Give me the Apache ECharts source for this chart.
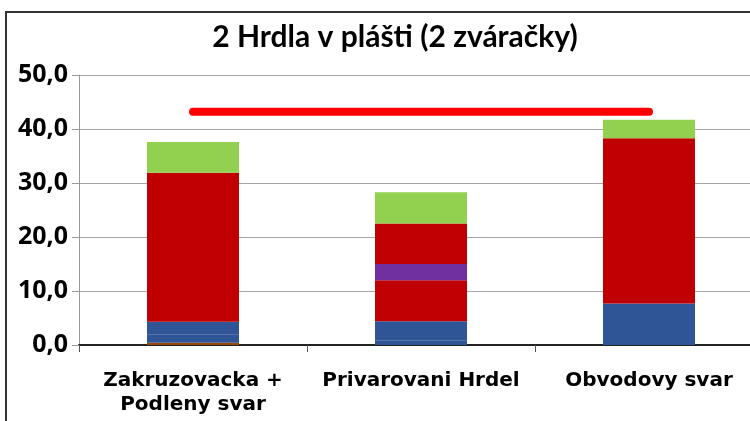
<!DOCTYPE html>
<html>
<head>
<meta charset="utf-8">
<script src="https://cdn.jsdelivr.net/npm/echarts@6/dist/echarts.min.js"></script>
<style>
html,body{margin:0;padding:0;background:#fff;overflow:hidden;width:750px;height:421px;}
#c{width:780px;height:421px;}
</style>
</head>
<body>
<div id="c"></div>
<script>
const titleText = '2 Hrdla v plášti (2 zváračky)';
const categories = ['Zakruzovacka +\nPodleny svar', 'Privarovani Hrdel', 'Obvodovy svar'];
const yTicks = [0, 10, 20, 30, 40, 50];
// stacked segment values (bottom to top)
const brown  = [0.4, 0,   0];
const blue1  = [1.5, 0.9, 7.7];
const blue2  = [2.4, 3.5, 0];
const red1   = [27.6, 7.6, 30.6];
const purple = [0,   3.0, 0];
const red2   = [0,   7.5, 0];
const green1 = [3.3, 5.8, 3.4];
const green2 = [2.4, 0,   0];
const targetLine = [43.2, 43.2, 43.2];

const segs = [
  ['brown', brown, '#984807'],
  ['blue1', blue1, '#2f5597'],
  ['blue2', blue2, '#2f5597'],
  ['red1', red1, '#c00000'],
  ['purple', purple, '#7030a0'],
  ['red2', red2, '#c00000'],
  ['green1', green1, '#92d050'],
  ['green2', green2, '#92d050']
];

const series = segs.map(s => ({
  name: s[0], type: 'bar', stack: 'a', data: s[1], barWidth: 92,
  itemStyle: { color: s[2], borderWidth: 0 },
  emphasis: { disabled: true }
}));
series.push({
  name: 'target', type: 'line', data: targetLine, showSymbol: false, symbol: 'none', z: 5,
  lineStyle: { color: '#ff0000', width: 8, cap: 'round' }
});

const chart = echarts.init(document.getElementById('c'));
chart.setOption({
  animation: false,
  backgroundColor: '#fff',
  title: {
    text: titleText, left: 390, textAlign: 'center', top: 17,
    textStyle: { fontFamily: 'Lato', fontWeight: 'bold', fontSize: 30, color: '#000' }
  },
  graphic: [{
    type: 'rect', shape: { x: 6, y: 12, width: 900, height: 600 },
    style: { fill: 'none', stroke: '#333', lineWidth: 2 }, silent: true, z: 100
  }],
  grid: { left: 79, right: 17, top: 75, bottom: 76, containLabel: false },
  xAxis: {
    type: 'category', data: categories,
    axisLine: { lineStyle: { color: '#222', width: 2 } },
    axisTick: { show: true, length: 7, lineStyle: { color: '#555' } },
    axisLabel: {
      margin: 24, fontFamily: 'DejaVu Sans', fontWeight: 'bold', fontSize: 20,
      lineHeight: 24, color: '#000', interval: 0
    }
  },
  yAxis: {
    type: 'value', min: yTicks[0], max: yTicks[yTicks.length - 1], interval: 10,
    axisLine: { show: true, lineStyle: { color: '#999', width: 1 } },
    axisTick: { show: true, length: 7, lineStyle: { color: '#999' } },
    splitLine: { lineStyle: { color: '#a6a6a6', width: 1 } },
    axisLabel: {
      margin: 11, fontFamily: 'Open Sans', fontWeight: 'bold', fontSize: 25, color: '#000',
      formatter: v => v.toFixed(1).replace('.', ',')
    }
  },
  series: series
});
</script>
</body>
</html>
